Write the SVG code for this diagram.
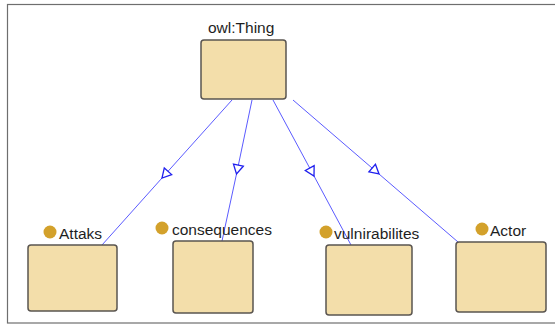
<svg xmlns="http://www.w3.org/2000/svg" width="555" height="325" viewBox="0 0 555 325">
  <style>
    .frame { fill: #ffffff; stroke: #6e6e6e; stroke-width: 1.2; }
    .box { fill: #F3DEAA; stroke: #5a5550; stroke-width: 1.5; }
    .lbl { font-family: "Liberation Sans", Arial, sans-serif; font-size: 15.5px; fill: #1e1e1e; }
    .dot { fill: #D3A12B; }
    .edge { fill: none; stroke: #5b5bff; stroke-width: 1; }
  </style>
  <defs>
    <marker id="tri" markerUnits="userSpaceOnUse" markerWidth="14" markerHeight="14" refX="12" refY="6" orient="auto" overflow="visible">
      <path d="M3,1 L12,6 L3,11 Z" fill="#ffffff" stroke="#1f1fee" stroke-width="1.3"/>
    </marker>
  </defs>
  <rect class="frame" x="7.5" y="4.5" width="560" height="318.5"/>
  <g id="connectors">
    <path class="edge" d="M232,100 L162,178 L102,245" marker-mid="url(#tri)"/>
    <path class="edge" d="M252,100 L236.5,174 L222,241" marker-mid="url(#tri)"/>
    <path class="edge" d="M273,100 L314,176 L351,245" marker-mid="url(#tri)"/>
    <path class="edge" d="M293,100 L379,174 L458,242" marker-mid="url(#tri)"/>
  </g>
  <g id="owl-thing">
    <rect class="box" x="201" y="40" width="85" height="59" rx="3"/>
    <text class="lbl" x="208" y="33">owl:Thing</text>
  </g>
  <g id="attaks">
    <rect class="box" x="28" y="245" width="89" height="66" rx="3"/>
    <circle class="dot" cx="50" cy="232" r="6.5"/>
    <text class="lbl" x="59" y="239">Attaks</text>
  </g>
  <g id="consequences">
    <rect class="box" x="173" y="241" width="80" height="72" rx="3"/>
    <circle class="dot" cx="162" cy="228" r="6.5"/>
    <text class="lbl" x="172" y="235">consequences</text>
  </g>
  <g id="vulnirabilites">
    <rect class="box" x="326" y="245" width="86" height="70" rx="3"/>
    <circle class="dot" cx="326" cy="232" r="6.5"/>
    <text class="lbl" x="334" y="239">vulnirabilites</text>
  </g>
  <g id="actor">
    <rect class="box" x="456" y="242" width="90" height="70" rx="3"/>
    <circle class="dot" cx="482" cy="229" r="6.5"/>
    <text class="lbl" x="490" y="236">Actor</text>
  </g>
</svg>
